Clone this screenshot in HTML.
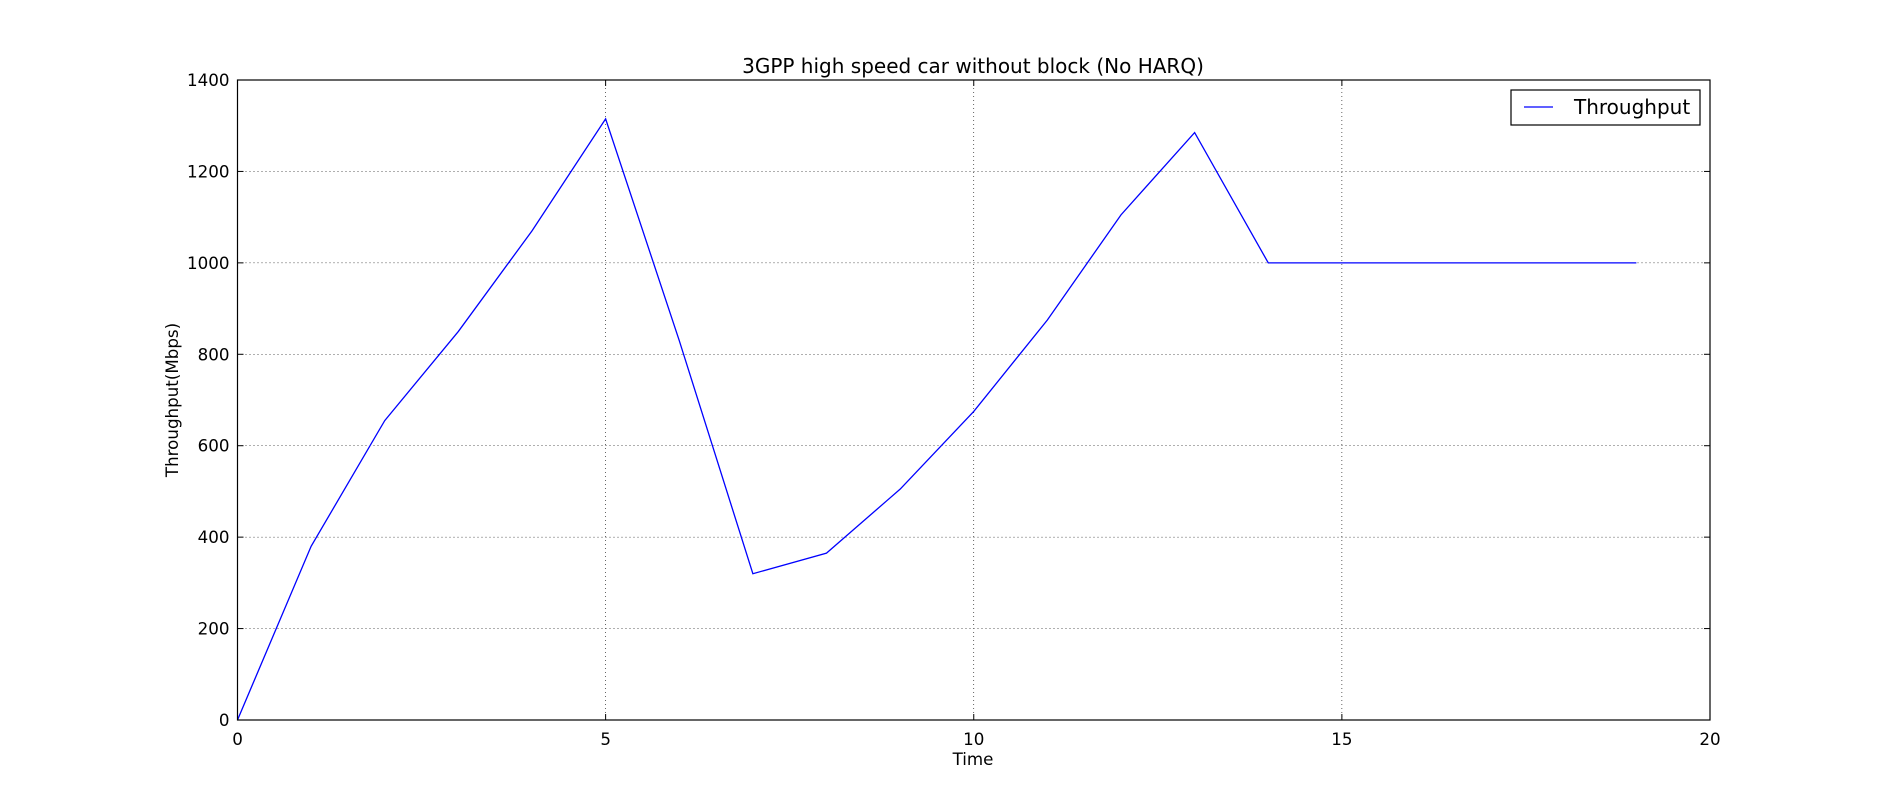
<!DOCTYPE html>
<html><head><meta charset="utf-8"><style>
body{margin:0;background:#fff;}
svg{display:block;font-family:"DejaVu Sans","Liberation Sans",sans-serif;}
</style></head><body>
<svg id="chart" width="1900" height="800">
<text x="973" y="73" font-size="20" text-anchor="middle">3GPP high speed car without block (No HARQ)</text>
<g id="grid"></g><g id="ticks"></g><g id="series"></g>
<rect x="237.5" y="80" width="1472.5" height="640" fill="none" stroke="#000" stroke-width="1.2"/>
<text x="973" y="765" font-size="16.7" text-anchor="middle">Time</text>
<text transform="translate(178,400) rotate(-90)" font-size="16.7" text-anchor="middle">Throughput(Mbps)</text>
<g>
<rect x="1511" y="90" width="189" height="35" fill="#fff" stroke="#000" stroke-width="1.2"/>
<line x1="1524" y1="107" x2="1553" y2="107" stroke="#0000ff" stroke-width="1.2"/>
<text x="1574" y="114" font-size="20">Throughput</text>
</g>
</svg>
<script>
const times=[0,1,2,3,4,5,6,7,8,9,10,11,12,13,14,15,16,17,18,19];
const throughput=[0,380,655,850,1070,1315,830,320,365,505,675,875,1105,1285,1000,1000,1000,1000,1000,1000];
const xTicks=[0,5,10,15,20];
const yTicks=[0,200,400,600,800,1000,1200,1400];
const NS="http://www.w3.org/2000/svg";
const L=237.5,R=1710,T=80,B=720;
const sx=v=>L+(v-0)/(20-0)*(R-L);
const sy=v=>B-(v-0)/(1400-0)*(B-T);
function mk(tag,attrs,parent){const e=document.createElementNS(NS,tag);for(const k in attrs)e.setAttribute(k,attrs[k]);parent.appendChild(e);return e;}
const grid=document.getElementById('grid'),ticks=document.getElementById('ticks'),series=document.getElementById('series');
xTicks.forEach(t=>{const x=sx(t);
 if(t>0&&t<20){const g=mk('line',{x1:x,x2:x,y1:T,y2:B,stroke:'#000','stroke-width':0.6,'stroke-dasharray':'1,3'},grid);
 
 }
 mk('line',{x1:x,x2:x,y1:B,y2:B-6,stroke:'#000'},ticks);
 mk('line',{x1:x,x2:x,y1:T,y2:T+6,stroke:'#000'},ticks);
 const tx=mk('text',{x:x,y:B+25,'font-size':16.7,'text-anchor':'middle'},ticks);tx.textContent=t;
 
 
});
yTicks.forEach(t=>{const y=sy(t);
 if(t>0&&t<1400){const g=mk('line',{x1:L,x2:R,y1:y,y2:y,stroke:'#000','stroke-width':0.6,'stroke-dasharray':'1,3'},grid);
 
 }
 mk('line',{x1:L,x2:L+6,y1:y,y2:y,stroke:'#000'},ticks);
 mk('line',{x1:R,x2:R-6,y1:y,y2:y,stroke:'#000'},ticks);
 const tx=mk('text',{x:L-8,y:y+6,'font-size':16.7,'text-anchor':'end'},ticks);tx.textContent=t;
 
 
});
const pts=times.map((t,i)=>sx(t)+','+sy(throughput[i])).join(' ');
const pl=mk('polyline',{points:pts,fill:'none',stroke:'#0000ff','stroke-width':1.3},series);


</script>
</body></html>
